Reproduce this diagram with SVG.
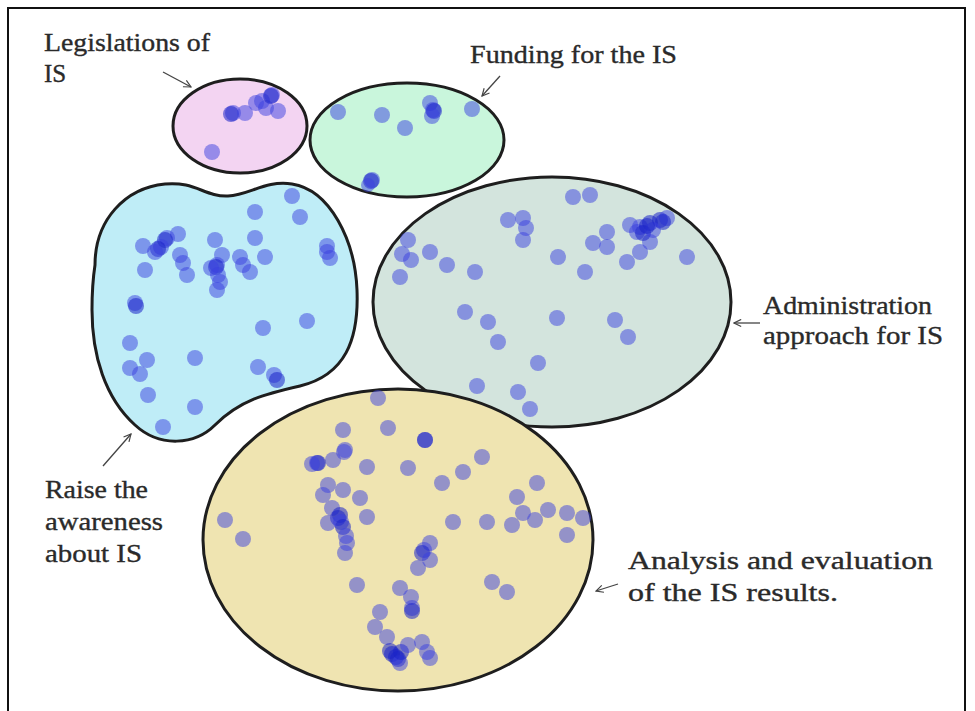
<svg xmlns="http://www.w3.org/2000/svg" width="975" height="711" viewBox="0 0 975 711">
<defs>
<style>
.region{stroke:#1e1e1e;stroke-width:3}
.d{fill:#3a40e0;fill-opacity:0.5}
.k{fill:#1a22c8;fill-opacity:0.55}
.lbl{font-family:"Liberation Serif","Times New Roman",serif;font-size:25px;fill:#2a2a2a;stroke:#2a2a2a;stroke-width:0.35}
.conn{stroke:#444;stroke-width:1.3;fill:none}
</style>
<marker id="arr" viewBox="0 0 10 10" refX="9" refY="5" markerWidth="9" markerHeight="9" markerUnits="userSpaceOnUse" orient="auto">
<path d="M1,1 L9,5 L1,9" fill="none" stroke="#444" stroke-width="1.3"/>
</marker>
</defs>
<rect width="975" height="711" fill="#fff"/>
<path d="M8,711 V8 H965 V711" fill="none" stroke="#111" stroke-width="2"/>

<g id="legislations">
<ellipse class="region" cx="240" cy="126" rx="67" ry="47" fill="#f3d4f2"/>
<circle class="d" cx="233" cy="113" r="8"/><circle class="k" cx="231" cy="114" r="8"/>
<circle class="d" cx="245" cy="113" r="8"/>
<circle class="d" cx="256" cy="103" r="8"/>
<circle class="d" cx="262" cy="101" r="8"/>
<circle class="d" cx="266" cy="108" r="8"/>
<circle class="d" cx="272" cy="95" r="8"/><circle class="k" cx="271" cy="96" r="8"/>
<circle class="d" cx="278" cy="111" r="8"/>
<circle class="d" cx="212" cy="152" r="8"/>
<text class="lbl" x="44" y="51" textLength="166" lengthAdjust="spacingAndGlyphs">Legislations of</text>
<text class="lbl" x="44" y="82">IS</text>
</g>

<g id="funding">
<ellipse class="region" cx="407" cy="140" rx="97" ry="57" fill="#c9f6dc"/>
<circle class="d" cx="338" cy="112" r="8"/>
<circle class="d" cx="382" cy="115" r="8"/>
<circle class="d" cx="405" cy="128" r="8"/>
<circle class="d" cx="430" cy="103" r="8"/>
<circle class="d" cx="433" cy="110" r="8"/><circle class="k" cx="434" cy="111" r="8"/>
<circle class="d" cx="432" cy="116" r="8"/>
<circle class="d" cx="472" cy="109" r="8"/>
<circle class="d" cx="372" cy="180" r="8"/><circle class="k" cx="371" cy="181" r="8"/>
<circle class="d" cx="368" cy="185" r="7"/>
<text class="lbl" x="470" y="63" textLength="207" lengthAdjust="spacingAndGlyphs">Funding for the IS</text>
</g>

<g id="raise-awareness">
<path class="region" fill="#bfedf7" d="M95,265 C95,220 125,188 165,184 C195,181 205,197 228,196 C250,195 265,180 292,184 C330,190 355,240 357,290 C359,340 345,375 300,386 C265,394 240,400 215,425 C195,445 160,448 135,425 C105,398 92,355 92,310 C92,290 93,278 95,265 Z"/>
<circle class="d" cx="292" cy="196" r="8"/>
<circle class="d" cx="300" cy="217" r="8"/>
<circle class="d" cx="255" cy="212" r="8"/>
<circle class="d" cx="255" cy="238" r="8"/>
<circle class="d" cx="265" cy="257" r="8"/>
<circle class="d" cx="215" cy="240" r="8"/>
<circle class="d" cx="178" cy="234" r="8"/>
<circle class="d" cx="167" cy="238" r="8"/><circle class="k" cx="165" cy="240" r="8"/>
<circle class="d" cx="161" cy="247" r="8"/><circle class="k" cx="158" cy="249" r="8"/>
<circle class="d" cx="155" cy="252" r="8"/>
<circle class="d" cx="143" cy="246" r="8"/>
<circle class="d" cx="145" cy="270" r="8"/>
<circle class="d" cx="180" cy="255" r="8"/>
<circle class="d" cx="183" cy="263" r="8"/>
<circle class="d" cx="187" cy="275" r="8"/>
<circle class="d" cx="222" cy="255" r="8"/>
<circle class="d" cx="217" cy="265" r="8"/><circle class="k" cx="216" cy="267" r="8"/>
<circle class="d" cx="211" cy="268" r="8"/>
<circle class="d" cx="218" cy="275" r="8"/>
<circle class="d" cx="220" cy="282" r="8"/>
<circle class="d" cx="217" cy="290" r="8"/>
<circle class="d" cx="240" cy="257" r="8"/>
<circle class="d" cx="243" cy="265" r="8"/>
<circle class="d" cx="250" cy="272" r="8"/>
<circle class="d" cx="327" cy="246" r="8"/>
<circle class="d" cx="327" cy="252" r="8"/>
<circle class="d" cx="330" cy="258" r="8"/>
<circle class="d" cx="135" cy="303" r="8"/><circle class="k" cx="136" cy="306" r="8"/>
<circle class="d" cx="307" cy="321" r="8"/>
<circle class="d" cx="263" cy="328" r="8"/>
<circle class="d" cx="130" cy="343" r="8"/>
<circle class="d" cx="147" cy="360" r="8"/>
<circle class="d" cx="130" cy="368" r="8"/>
<circle class="d" cx="140" cy="374" r="8"/>
<circle class="d" cx="195" cy="358" r="8"/>
<circle class="d" cx="258" cy="367" r="8"/>
<circle class="d" cx="274" cy="375" r="8"/>
<circle class="k" cx="277" cy="380" r="8"/>
<circle class="d" cx="148" cy="395" r="8"/>
<circle class="d" cx="195" cy="407" r="8"/>
<circle class="d" cx="163" cy="427" r="8"/>
<text class="lbl" x="45" y="498" textLength="103" lengthAdjust="spacingAndGlyphs">Raise the</text>
<text class="lbl" x="45" y="530" textLength="118" lengthAdjust="spacingAndGlyphs">awareness</text>
<text class="lbl" x="45" y="562" textLength="97" lengthAdjust="spacingAndGlyphs">about IS</text>
</g>

<g id="administration">
<ellipse class="region" cx="552" cy="302" rx="179" ry="125" fill="#d3e4dd"/>
<circle class="d" cx="573" cy="197" r="8"/>
<circle class="d" cx="590" cy="195" r="8"/>
<circle class="d" cx="508" cy="220" r="8"/>
<circle class="d" cx="523" cy="218" r="8"/>
<circle class="d" cx="526" cy="228" r="8"/>
<circle class="d" cx="523" cy="240" r="8"/>
<circle class="d" cx="408" cy="240" r="8"/>
<circle class="d" cx="402" cy="254" r="8"/>
<circle class="d" cx="411" cy="260" r="8"/>
<circle class="d" cx="430" cy="252" r="8"/>
<circle class="d" cx="447" cy="265" r="8"/>
<circle class="d" cx="475" cy="272" r="8"/>
<circle class="d" cx="400" cy="277" r="8"/>
<circle class="d" cx="558" cy="257" r="8"/>
<circle class="d" cx="593" cy="243" r="8"/>
<circle class="d" cx="607" cy="232" r="8"/>
<circle class="d" cx="607" cy="247" r="8"/>
<circle class="d" cx="585" cy="272" r="8"/>
<circle class="d" cx="627" cy="262" r="8"/>
<circle class="d" cx="640" cy="252" r="8"/>
<circle class="d" cx="650" cy="242" r="8"/>
<circle class="d" cx="630" cy="225" r="8"/>
<circle class="d" cx="640" cy="227" r="8"/>
<circle class="k" cx="650" cy="223" r="8"/>
<circle class="k" cx="660" cy="220" r="8"/>
<circle class="d" cx="667" cy="218" r="8"/>
<circle class="k" cx="663" cy="222" r="8"/>
<circle class="d" cx="637" cy="232" r="8"/>
<circle class="k" cx="643" cy="233" r="8"/>
<circle class="d" cx="653" cy="230" r="8"/>
<circle class="k" cx="647" cy="226" r="8"/>
<circle class="d" cx="687" cy="257" r="8"/>
<circle class="d" cx="465" cy="312" r="8"/>
<circle class="d" cx="488" cy="322" r="8"/>
<circle class="d" cx="498" cy="342" r="8"/>
<circle class="d" cx="557" cy="318" r="8"/>
<circle class="d" cx="615" cy="320" r="8"/>
<circle class="d" cx="628" cy="337" r="8"/>
<circle class="d" cx="538" cy="363" r="8"/>
<circle class="d" cx="477" cy="386" r="8"/>
<circle class="d" cx="518" cy="392" r="8"/>
<circle class="d" cx="530" cy="409" r="8"/>
<text class="lbl" x="763" y="314" textLength="169" lengthAdjust="spacingAndGlyphs">Administration</text>
<text class="lbl" x="763" y="344" textLength="180" lengthAdjust="spacingAndGlyphs">approach for IS</text>
</g>

<g id="analysis">
<ellipse class="region" cx="398" cy="540" rx="195" ry="151" fill="#efe4b1"/>
<circle class="d" cx="378" cy="398" r="8"/>
<circle class="d" cx="388" cy="428" r="8"/>
<circle class="d" cx="425" cy="440" r="8"/><circle class="k" cx="425" cy="440" r="8"/>
<circle class="d" cx="343" cy="430" r="8"/>
<circle class="d" cx="345" cy="450" r="8"/><circle class="d" cx="344" cy="452" r="8"/>
<circle class="d" cx="333" cy="460" r="8"/>
<circle class="d" cx="317" cy="463" r="8"/><circle class="k" cx="318" cy="463" r="8"/>
<circle class="d" cx="312" cy="464" r="8"/>
<circle class="d" cx="367" cy="467" r="8"/>
<circle class="d" cx="408" cy="468" r="8"/>
<circle class="d" cx="482" cy="457" r="8"/>
<circle class="d" cx="463" cy="472" r="8"/>
<circle class="d" cx="442" cy="483" r="8"/>
<circle class="d" cx="328" cy="485" r="8"/>
<circle class="d" cx="323" cy="495" r="8"/>
<circle class="d" cx="343" cy="490" r="8"/>
<circle class="d" cx="360" cy="498" r="8"/>
<circle class="d" cx="367" cy="517" r="8"/>
<circle class="d" cx="332" cy="508" r="8"/>
<circle class="k" cx="340" cy="515" r="8"/><circle class="k" cx="338" cy="518" r="8"/>
<circle class="d" cx="341" cy="522" r="8"/><circle class="k" cx="343" cy="527" r="8"/>
<circle class="d" cx="328" cy="523" r="8"/>
<circle class="d" cx="346" cy="536" r="8"/>
<circle class="d" cx="347" cy="543" r="8"/>
<circle class="d" cx="345" cy="553" r="8"/>
<circle class="d" cx="225" cy="520" r="8"/>
<circle class="d" cx="243" cy="539" r="8"/>
<circle class="d" cx="453" cy="522" r="8"/>
<circle class="d" cx="487" cy="522" r="8"/>
<circle class="d" cx="512" cy="525" r="8"/>
<circle class="d" cx="517" cy="497" r="8"/>
<circle class="d" cx="537" cy="483" r="8"/>
<circle class="d" cx="523" cy="513" r="8"/>
<circle class="d" cx="535" cy="520" r="8"/>
<circle class="d" cx="548" cy="510" r="8"/>
<circle class="d" cx="567" cy="513" r="8"/>
<circle class="d" cx="583" cy="518" r="8"/>
<circle class="d" cx="567" cy="535" r="8"/>
<circle class="d" cx="430" cy="543" r="8"/>
<circle class="d" cx="424" cy="550" r="8"/><circle class="k" cx="422" cy="553" r="8"/>
<circle class="d" cx="430" cy="560" r="8"/>
<circle class="d" cx="418" cy="568" r="8"/>
<circle class="d" cx="357" cy="585" r="8"/>
<circle class="d" cx="400" cy="588" r="8"/>
<circle class="d" cx="411" cy="597" r="8"/>
<circle class="d" cx="412" cy="608" r="8"/><circle class="k" cx="412" cy="611" r="8"/>
<circle class="d" cx="492" cy="582" r="8"/>
<circle class="d" cx="507" cy="592" r="8"/>
<circle class="d" cx="380" cy="612" r="8"/>
<circle class="d" cx="375" cy="627" r="8"/>
<circle class="d" cx="387" cy="637" r="8"/>
<circle class="k" cx="390" cy="651" r="8"/><circle class="k" cx="392" cy="654" r="8"/>
<circle class="k" cx="396" cy="657" r="8"/><circle class="k" cx="398" cy="659" r="8"/>
<circle class="d" cx="400" cy="663" r="8"/><circle class="k" cx="401" cy="652" r="8"/>
<circle class="d" cx="408" cy="645" r="8"/>
<circle class="d" cx="422" cy="642" r="8"/>
<circle class="d" cx="427" cy="652" r="8"/>
<circle class="d" cx="430" cy="658" r="8"/>
<text class="lbl" x="628" y="569" textLength="305" lengthAdjust="spacingAndGlyphs">Analysis and evaluation</text>
<text class="lbl" x="628" y="601" textLength="210" lengthAdjust="spacingAndGlyphs">of the IS results.</text>
</g>

<g id="connectors">
<line class="conn" x1="163" y1="72" x2="191" y2="87" marker-end="url(#arr)"/>
<line class="conn" x1="500" y1="76" x2="482" y2="96" marker-end="url(#arr)"/>
<line class="conn" x1="760" y1="323" x2="734" y2="323" marker-end="url(#arr)"/>
<line class="conn" x1="103" y1="466" x2="131" y2="434" marker-end="url(#arr)"/>
<line class="conn" x1="618" y1="584" x2="596" y2="591" marker-end="url(#arr)"/>
</g>
</svg>
